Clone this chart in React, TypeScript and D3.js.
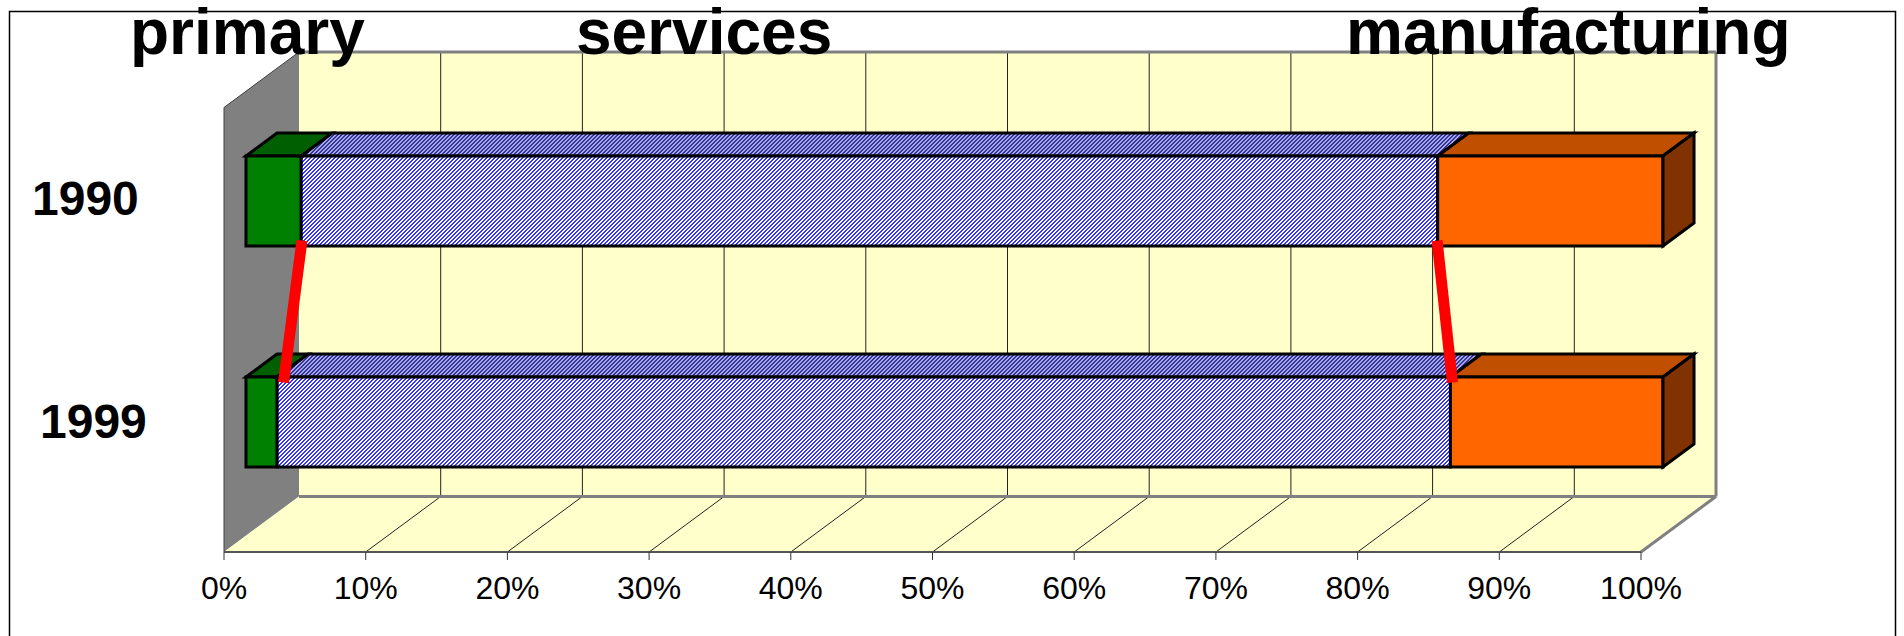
import React from 'react';
import * as d3 from 'd3';

// ---- data ----
const years = ['1990', '1999'];
const sectors = ['primary', 'services', 'manufacturing'];
const primaryShare = [3.9, 2.2];
const servicesShare = [80.2, 82.8];
const manufacturingShare = [15.9, 15.0];
const tickValues = [0, 10, 20, 30, 40, 50, 60, 70, 80, 90, 100];
const tickLabels = ['0%', '10%', '20%', '30%', '40%', '50%', '60%', '70%', '80%', '90%', '100%'];
const titleLabels = ['primary', 'services', 'manufacturing'];
// red connector lines (percent position at 1990 bar bottom, 1999 bar top)
const linkPrimary = [3.9, 2.7];
const linkServices = [84.1, 85.1];

const W = 1904;
const H = 636;
const FONT = '"Liberation Sans", Arial, Helvetica, sans-serif';

// 3D projection
const DX = 75;
const DY = 55.5;
const wallTopY = 107.5;
const floorY = 552;
const zA = 0.293;
const zB = 0.707;

const x = d3.scaleLinear().domain([0, 100]).range([224, 1641]);
const y = d3.scaleBand<string>().domain(years).range([172.3, 483.3]).paddingInner(0.5928).paddingOuter(0);

const P = (v: number, yy: number, z: number): [number, number] => [x(v) + DX * z, yy - DY * z];
const pts = (arr: [number, number][]) => arr.map((p) => p.join(',')).join(' ');

const rows = years.map((yr, i) => ({
  year: yr,
  primary: primaryShare[i],
  services: servicesShare[i],
  manufacturing: manufacturingShare[i],
}));
const stacked = d3.stack<any>().keys(sectors)(rows);

const faceFill: Record<string, { front: string; top: string; side: string }> = {
  primary: { front: '#008000', top: '#005f00', side: '#004000' },
  services: { front: 'url(#hatchFront)', top: 'url(#hatchTop)', side: 'url(#hatchTop)' },
  manufacturing: { front: '#FF6600', top: '#C05000', side: '#803300' },
};

const titleX = [130, 576, 1346];

export default function App() {
  const bw = y.bandwidth();
  const backX0 = x(0) + DX;
  const backX1 = x(100) + DX;
  const backTop = wallTopY - DY;
  const backBottom = floorY - DY;
  const gridVals = tickValues.filter((v) => v > 0 && v < 100);

  const bars: JSX.Element[] = [];
  years.forEach((yr, i) => {
    const yt = (y(yr) as number);
    const yb = yt + bw;
    stacked.forEach((s, si) => {
      const key = s.key as string;
      const [v0, v1] = s[i] as unknown as [number, number];
      const f = faceFill[key];
      const front: [number, number][] = [P(v0, yt, zA), P(v1, yt, zA), P(v1, yb, zA), P(v0, yb, zA)];
      const top: [number, number][] = [P(v0, yt, zA), P(v1, yt, zA), P(v1, yt, zB), P(v0, yt, zB)];
      bars.push(
        <polygon key={`t-${yr}-${key}`} points={pts(top)} fill={f.top} stroke="#000" strokeWidth={3} strokeLinejoin="miter" />
      );
      bars.push(
        <polygon key={`f-${yr}-${key}`} points={pts(front)} fill={f.front} stroke="#000" strokeWidth={3} strokeLinejoin="miter" />
      );
      if (si === stacked.length - 1) {
        const side: [number, number][] = [P(v1, yt, zA), P(v1, yt, zB), P(v1, yb, zB), P(v1, yb, zA)];
        bars.push(
          <polygon key={`s-${yr}-${key}`} points={pts(side)} fill={f.side} stroke="#000" strokeWidth={3} strokeLinejoin="miter" />
        );
      }
    });
  });

  const yb0 = (y(years[0]) as number) + bw;
  const yt1 = y(years[1]) as number;
  const links = [linkPrimary, linkServices].map((lk, i) => {
    const a = P(lk[0], yb0, zA);
    const b = P(lk[1], yt1, zA);
    return (
      <line key={`link-${i}`} x1={a[0]} y1={a[1]} x2={b[0]} y2={b[1]} stroke="#FF0000" strokeWidth={11} strokeLinecap="square" />
    );
  });

  return (
    <svg width={W} height={H} style={{ position: 'absolute', left: 0, top: 0, background: '#fff' }}>
      <defs>
        <pattern id="hatchFront" patternUnits="userSpaceOnUse" width={4} height={4}>
          <rect width={4} height={4} fill="#ffffff" />
          <rect x={0} y={0} width={1} height={1} fill="#3333ff" />
          <rect x={3} y={1} width={1} height={1} fill="#3333ff" />
          <rect x={2} y={2} width={1} height={1} fill="#3333ff" />
          <rect x={1} y={3} width={1} height={1} fill="#3333ff" />
          <rect x={3} y={0} width={1} height={1} fill="#3333ff" />
          <rect x={2} y={1} width={1} height={1} fill="#3333ff" />
          <rect x={1} y={2} width={1} height={1} fill="#3333ff" />
          <rect x={0} y={3} width={1} height={1} fill="#3333ff" />
        </pattern>
        <pattern id="hatchTop" patternUnits="userSpaceOnUse" width={4} height={4}>
          <rect width={4} height={4} fill="#a8a8e0" />
          <rect x={0} y={0} width={1} height={1} fill="#3434a0" />
          <rect x={3} y={1} width={1} height={1} fill="#3434a0" />
          <rect x={2} y={2} width={1} height={1} fill="#3434a0" />
          <rect x={1} y={3} width={1} height={1} fill="#3434a0" />
          <rect x={3} y={0} width={1} height={1} fill="#3434a0" />
          <rect x={2} y={1} width={1} height={1} fill="#3434a0" />
          <rect x={1} y={2} width={1} height={1} fill="#3434a0" />
          <rect x={0} y={3} width={1} height={1} fill="#3434a0" />
        </pattern>
      </defs>

      {/* outer frame */}
      <rect x={9.5} y={11.5} width={1886} height={700} fill="none" stroke="#000" strokeWidth={1.5} />

      {/* back wall */}
      <rect x={backX0} y={backTop} width={backX1 - backX0} height={backBottom - backTop} fill="#FFFFCC" />
      {/* side wall */}
      <polygon
        points={pts([[x(0), wallTopY], [backX0, backTop], [backX0, backBottom], [x(0), floorY]])}
        fill="#808080"
      />
      <polyline points={pts([[x(0), floorY], [x(0), wallTopY], [backX0, backTop]])} fill="none" stroke="#404040" strokeWidth={1} />
      {/* floor */}
      <polygon
        points={pts([[x(0), floorY], [x(100), floorY], [backX1, backBottom], [backX0, backBottom]])}
        fill="#FFFFCC"
      />
      {/* gridlines */}
      {gridVals.map((v) => (
        <line key={`gw-${v}`} x1={x(v) + DX} y1={backTop} x2={x(v) + DX} y2={backBottom} stroke="#222" strokeWidth={1} />
      ))}
      {gridVals.map((v) => (
        <line key={`gf-${v}`} x1={x(v)} y1={floorY} x2={x(v) + DX} y2={backBottom} stroke="#222" strokeWidth={1} />
      ))}
      {/* wall borders */}
      <line x1={backX0} y1={backTop} x2={backX1} y2={backTop} stroke="#808080" strokeWidth={3} />
      <line x1={backX1} y1={backTop} x2={backX1} y2={backBottom} stroke="#808080" strokeWidth={3} />
      <line x1={backX0} y1={backBottom} x2={backX1} y2={backBottom} stroke="#808080" strokeWidth={3} />
      <line x1={backX1} y1={backBottom} x2={x(100)} y2={floorY} stroke="#808080" strokeWidth={3} />
      <line x1={x(0)} y1={floorY} x2={x(100)} y2={floorY} stroke="#555" strokeWidth={2} />
      {/* ticks */}
      {tickValues.map((v) => (
        <line key={`tk-${v}`} x1={x(v)} y1={floorY} x2={x(v)} y2={floorY + 8} stroke="#333" strokeWidth={1} />
      ))}
      {tickValues.map((v, i) => (
        <text key={`tl-${v}`} x={x(v)} y={599} fontFamily={FONT} fontSize={32} textAnchor="middle" fill="#000">
          {tickLabels[i]}
        </text>
      ))}

      {/* bars */}
      {bars}

      {/* connectors */}
      {links}

      {/* category labels */}
      <text x={32} y={215} fontFamily={FONT} fontSize={48} fontWeight="bold" fill="#000">{years[0]}</text>
      <text x={40} y={438} fontFamily={FONT} fontSize={48} fontWeight="bold" fill="#000">{years[1]}</text>

      {/* series titles */}
      {titleLabels.map((t, i) => (
        <text key={`ttl-${t}`} x={titleX[i]} y={54} fontFamily={FONT} fontSize={64} fontWeight="bold" fill="#000">
          {t}
        </text>
      ))}
    </svg>
  );
}
